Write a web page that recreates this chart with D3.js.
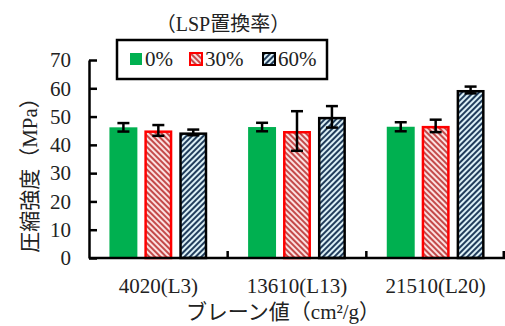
<!DOCTYPE html>
<html>
<head>
<meta charset="utf-8">
<script src="https://cdn.jsdelivr.net/npm/d3@7"></script>
<style>
  html, body { margin: 0; padding: 0; background: #fff; }
  svg { display: block; }
  text { font-family: "Liberation Serif", "Noto Sans CJK JP", serif; fill: #222; }
</style>
</head>
<body>
<svg id="chart" width="505" height="326"></svg>
<script>
// Blaine fineness groups and LSP replacement ratios
const categories = ["4020(L3)", "13610(L13)", "21510(L20)"];
const seriesNames = ["0%", "30%", "60%"];

// Compressive strength (MPa), one array per replacement ratio
const strength0 = [46.2, 46.3, 46.4];
const strength30 = [45.1, 44.9, 46.7];
const strength60 = [44.4, 49.9, 59.4];

// Error bar half-widths (MPa)
const err0 = [1.5, 1.5, 1.6];
const err30 = [1.9, 7.0, 2.2];
const err60 = [1.0, 3.8, 1.2];

const yTicks = [0, 10, 20, 30, 40, 50, 60, 70];

const seriesValues = [strength0, strength30, strength60];
const seriesErrors = [err0, err30, err60];

const svg = d3.select("#chart");
const W = 505, H = 326;
const plot = { left: 89, right: 505, top: 60, bottom: 258 };

// Hatch patterns for the 30% and 60% series
const defs = svg.append("defs");
function hatch(id, angle, bg, fg) {
  const p = defs.append("pattern")
    .attr("id", id)
    .attr("patternUnits", "userSpaceOnUse")
    .attr("width", 4).attr("height", 4)
    .attr("patternTransform", `rotate(${angle})`);
  p.append("rect").attr("width", 4).attr("height", 4).attr("fill", bg);
  p.append("rect").attr("width", 2).attr("height", 4).attr("fill", fg);
}
hatch("hatchRed", -45, "#fbe0e0", "#c44a4a");
hatch("hatchBlue", 45, "#dcf0f6", "#213d5c");

const styles = [
  { fill: "#00b050", stroke: "#00b050", sw: 0 },
  { fill: "url(#hatchRed)", stroke: "#ff0000", sw: 2.5 },
  { fill: "url(#hatchBlue)", stroke: "#000", sw: 2.5 }
];

const x0 = d3.scaleBand().domain(categories).range([plot.left, plot.right]).padding(0);
const x1 = d3.scaleBand().domain(seriesNames).range([0, x0.bandwidth()])
  .paddingInner(0.2).paddingOuter(0.585);
const y = d3.scaleLinear().domain([0, 70]).range([plot.bottom, plot.top]);

// Bars
const groups = svg.append("g").selectAll("g")
  .data(categories)
  .join("g")
  .attr("transform", d => `translate(${x0(d)},0)`);

groups.each(function(cat, ci) {
  const g = d3.select(this);
  seriesNames.forEach((s, si) => {
    const v = seriesValues[si][ci];
    const st = styles[si];
    const inset = st.sw / 2;
    g.append("rect")
      .attr("x", x1(s) + inset)
      .attr("y", y(v) + inset)
      .attr("width", x1.bandwidth() - st.sw)
      .attr("height", y(0) - y(v) - st.sw + inset)
      .attr("fill", st.fill)
      .attr("stroke", st.sw ? st.stroke : "none")
      .attr("stroke-width", st.sw);
  });
  // Error bars
  seriesNames.forEach((s, si) => {
    const v = seriesValues[si][ci];
    const e = seriesErrors[si][ci];
    const cx = x1(s) + x1.bandwidth() / 2;
    const eg = g.append("g").attr("stroke", "#000").attr("stroke-width", 2.5);
    eg.append("line").attr("x1", cx).attr("x2", cx).attr("y1", y(v - e)).attr("y2", y(v + e));
    eg.append("line").attr("x1", cx - 6).attr("x2", cx + 6).attr("y1", y(v - e)).attr("y2", y(v - e));
    eg.append("line").attr("x1", cx - 6).attr("x2", cx + 6).attr("y1", y(v + e)).attr("y2", y(v + e));
  });
});

// Y axis, ticks pointing into the plot
const yAxis = svg.append("g")
  .attr("transform", `translate(${plot.left},0)`)
  .call(d3.axisLeft(y).tickValues(yTicks).tickSizeInner(-8).tickSizeOuter(0).tickPadding(18));
yAxis.select(".domain").attr("stroke", "#000").attr("stroke-width", 2.5);
yAxis.selectAll(".tick line").attr("stroke", "#000").attr("stroke-width", 2.5);
yAxis.selectAll(".tick text")
  .attr("font-size", 21).attr("font-family", "Liberation Serif").attr("fill", "#222");

// X axis with tick marks on group boundaries, pointing up
const xAxisG = svg.append("g").attr("transform", `translate(0,${plot.bottom})`);
xAxisG.append("line")
  .attr("x1", plot.left).attr("x2", plot.right)
  .attr("stroke", "#000").attr("stroke-width", 2.5);
const boundaries = categories.map(c => x0(c) + x0.bandwidth()).map(v => Math.min(v, plot.right - 1.25));
xAxisG.selectAll("line.tk").data(boundaries).join("line")
  .attr("class", "tk")
  .attr("x1", d => d).attr("x2", d => d)
  .attr("y1", 0).attr("y2", -7)
  .attr("stroke", "#000").attr("stroke-width", 2.5);
xAxisG.selectAll("text.cat").data(categories).join("text")
  .attr("class", "cat")
  .attr("x", d => x0(d) + x0.bandwidth() / 2)
  .attr("y", 35)
  .attr("text-anchor", "middle")
  .attr("font-size", 21)
  .text(d => d);

// Axis titles
svg.append("text")
  .attr("x", 283).attr("y", 319)
  .attr("text-anchor", "middle")
  .attr("font-size", 21)
  .text("ブレーン値（cm²/g）");

svg.append("text")
  .attr("transform", "translate(37,170) rotate(-90)")
  .attr("text-anchor", "middle")
  .attr("font-size", 21)
  .text("圧縮強度（MPa）");

// Legend
svg.append("text")
  .attr("x", 223).attr("y", 31)
  .attr("text-anchor", "middle")
  .attr("font-size", 20)
  .text("（LSP置換率）");

svg.append("rect")
  .attr("x", 117).attr("y", 40).attr("width", 210).attr("height", 39)
  .attr("fill", "#fff").attr("stroke", "#000").attr("stroke-width", 2.5);

const legendX = [129, 189, 262];
seriesNames.forEach((s, i) => {
  const st = styles[i];
  svg.append("rect")
    .attr("x", legendX[i] + 1).attr("y", 53)
    .attr("width", 12).attr("height", 12)
    .attr("fill", st.fill)
    .attr("stroke", st.sw ? st.stroke : "none")
    .attr("stroke-width", 2);
  svg.append("text")
    .attr("x", legendX[i] + 16).attr("y", 66)
    .attr("font-size", 21)
    .text(s);
});
</script>
</body>
</html>
